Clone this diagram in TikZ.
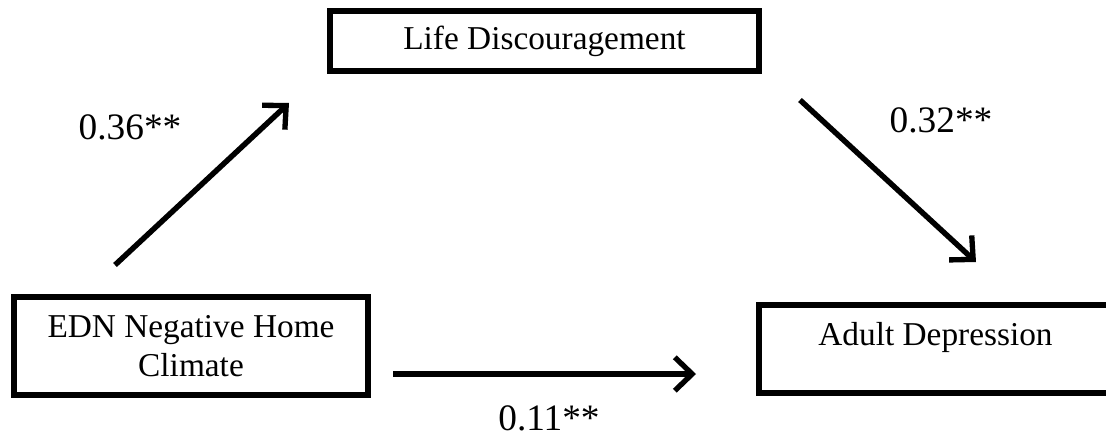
\documentclass[tikz,border=0pt]{standalone}
\usepackage{fontspec}
\setmainfont{Liberation Serif}
\usetikzlibrary{arrows.meta}
\tikzset{
  varbox/.style={draw, line width=3.9pt, rectangle, inner sep=0pt, align=center,
    font=\fontsize{25}{29}\selectfont},
  patharrow/.style={line width=4.1pt, -{Straight Barb[length=13pt, width=25pt, line width=4pt]}},
  coef/.style={font=\fontsize{28}{32}\selectfont, inner sep=0pt}
}
\begin{document}
\begin{tikzpicture}[x=0.75pt, y=-0.75pt]
  \useasboundingbox (0,0) rectangle (1106,439);
  \clip (0,0) rectangle (1106,439);
  \node[varbox, minimum width=429*0.75pt, minimum height=60*0.75pt] (ld) at (544.5,41) {Life Discouragement};
  \node[varbox, minimum width=354*0.75pt, minimum height=98*0.75pt] (edn) at (191,346) {EDN Negative Home\\Climate};
  \node[varbox, minimum width=353*0.75pt, minimum height=88*0.75pt, text height=16.5pt, text depth=22.5pt] (ad) at (935.5,349) {Adult Depression};
  \coordinate (a1s) at (115,265);
  \coordinate (a1e) at (289,103);
  \coordinate (a2s) at (800,100);
  \coordinate (a2e) at (976,262);
  \coordinate (a3s) at (393,374);
  \coordinate (a3e) at (696,374);
  \draw[patharrow] (a1s) -- (a1e);
  \draw[patharrow] (a2s) -- (a2e);
  \draw[patharrow] (a3s) -- (a3e);
  \node[coef] (c1) at (130,127) {0.36**};
  \node[coef] (c2) at (941,120) {0.32**};
  \node[coef] (c3) at (549,418) {0.11**};
\end{tikzpicture}
\end{document}
